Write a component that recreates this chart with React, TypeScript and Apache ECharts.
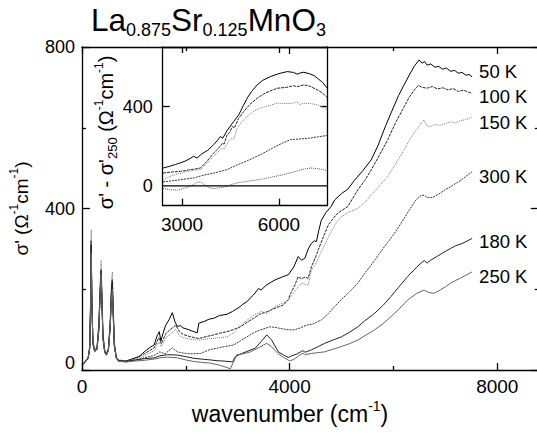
import React, { useEffect, useRef } from "react";
import * as echarts from "echarts";

const FONT = "'Liberation Sans', Arial, Helvetica, sans-serif";

// ---- Main panel: sigma'(omega) [Ohm^-1 cm^-1] vs wavenumber [cm^-1] ----
const sigma50K: [number, number][] = [
  [30, 16], [80, 24], [120, 30], [150, 55], [165, 150], [178, 320], [190, 180], [210, 70], [245, 48], [290, 52],
  [325, 100], [350, 190], [365, 235], [380, 190], [405, 80], [440, 45], [470, 38], [510, 50], [545, 110], [570, 200],
  [583, 215], [600, 150], [625, 60], [660, 32], [700, 24], [850, 22], [1000, 29], [1100, 33], [1200, 45], [1300, 55],
  [1391, 62], [1450, 85], [1490, 95], [1520, 72], [1560, 90], [1614, 111], [1680, 125], [1742, 142], [1790, 120],
  [1837, 108], [1900, 110], [1933, 105], [2050, 100], [2157, 95], [2220, 92], [2252, 116], [2350, 120], [2450, 126],
  [2540, 128], [2650, 135], [2794, 138], [2900, 145], [3049, 157], [3100, 163], [3177, 169], [3240, 178], [3305, 186],
  [3401, 202], [3450, 198], [3550, 210], [3650, 218], [3719, 223], [3850, 230], [3975, 236], [4080, 255], [4166, 281],
  [4230, 272], [4294, 277], [4360, 300], [4421, 314], [4480, 320], [4517, 318], [4560, 345], [4612, 371], [4700, 390],
  [4800, 405], [4867, 421], [5000, 437], [5123, 448], [5250, 470], [5400, 492], [5569, 520], [5700, 555], [5850, 605],
  [5952, 636], [6100, 680], [6200, 705], [6303, 730], [6400, 752], [6494, 768], [6550, 760], [6600, 764], [6650, 755],
  [6718, 758], [6800, 750], [6870, 752], [6950, 745], [7020, 748], [7100, 740], [7180, 742], [7250, 735], [7320, 737],
  [7400, 730], [7460, 732], [7515, 726],
];
const sigma100K: [number, number][] = [
  [30, 15], [80, 23], [120, 29], [150, 58], [165, 160], [179, 300], [192, 170], [212, 68], [245, 50], [290, 55],
  [325, 110], [352, 205], [368, 250], [382, 200], [405, 85], [440, 48], [470, 40], [510, 52], [545, 120], [572, 210],
  [585, 225], [600, 160], [625, 65], [660, 33], [700, 25], [850, 22], [1000, 28], [1200, 40], [1391, 55], [1480, 80],
  [1530, 65], [1614, 90], [1700, 100], [1805, 111], [1880, 95], [1950, 88], [2100, 82], [2252, 78], [2400, 83],
  [2540, 87], [2650, 91], [2794, 95], [2920, 100], [3049, 107], [3180, 118], [3305, 128], [3420, 138], [3560, 144],
  [3700, 152], [3879, 161], [3980, 175], [4006, 186], [4100, 210], [4166, 231], [4230, 226], [4300, 230], [4357, 227],
  [4421, 256], [4500, 280], [4560, 300], [4650, 330], [4750, 360], [4900, 385], [5000, 395], [5123, 405], [5200, 422],
  [5314, 446], [5450, 470], [5569, 495], [5700, 525], [5889, 570], [6050, 615], [6207, 652], [6300, 675], [6399, 693],
  [6480, 705], [6550, 700], [6650, 698], [6750, 702], [6850, 696], [6950, 699], [7050, 694], [7150, 697], [7250, 690],
  [7350, 693], [7450, 688], [7515, 685],
];
const sigma150K: [number, number][] = [
  [30, 17], [80, 25], [120, 31], [150, 62], [166, 180], [179, 347], [191, 190], [212, 72], [245, 52], [290, 58],
  [325, 120], [352, 220], [370, 272], [384, 210], [407, 90], [440, 50], [470, 42], [510, 55], [545, 125], [574, 230],
  [587, 243], [602, 170], [626, 70], [660, 34], [700, 24], [850, 22], [1000, 26], [1200, 35], [1391, 48], [1480, 70],
  [1530, 58], [1614, 80], [1700, 88], [1805, 100], [1880, 85], [1950, 80], [2100, 76], [2252, 74], [2400, 77],
  [2507, 78], [2650, 80], [2794, 82], [2950, 95], [3145, 120], [3300, 135], [3450, 145], [3560, 140], [3719, 157],
  [3850, 165], [3975, 173], [4100, 195], [4230, 215], [4300, 212], [4357, 210], [4421, 248], [4500, 262], [4600, 290],
  [4750, 330], [4900, 365], [5000, 380], [5123, 390], [5314, 400], [5450, 415], [5569, 433], [5700, 452], [5889, 479],
  [6050, 512], [6207, 545], [6330, 575], [6462, 598], [6530, 612], [6590, 619], [6640, 605], [6718, 603], [6800, 608],
  [6900, 606], [7000, 610], [7100, 615], [7200, 612], [7300, 618], [7400, 620], [7515, 627],
];
const sigma300K: [number, number][] = [
  [30, 14], [80, 22], [120, 28], [150, 52], [166, 140], [179, 280], [191, 160], [212, 62], [245, 45], [290, 50],
  [325, 95], [350, 180], [366, 230], [380, 185], [405, 75], [440, 42], [470, 36], [510, 47], [545, 105], [572, 195],
  [585, 210], [600, 145], [625, 55], [660, 30], [700, 22], [850, 20], [1000, 24], [1200, 30], [1391, 36], [1500, 45],
  [1600, 40], [1742, 55], [1837, 45], [1950, 42], [2100, 40], [2284, 41], [2450, 50], [2603, 54], [2750, 58],
  [2922, 62], [3050, 72], [3177, 82], [3300, 92], [3432, 99], [3624, 107], [3750, 105], [3815, 103], [3950, 100],
  [4070, 99], [4200, 104], [4325, 111], [4450, 114], [4612, 124], [4750, 140], [4867, 157], [5000, 175], [5150, 193],
  [5314, 215], [5450, 240], [5600, 265], [5824, 305], [6000, 335], [6144, 363], [6300, 395], [6431, 421], [6530, 432],
  [6590, 433], [6640, 428], [6720, 427], [6781, 429], [6900, 438], [7000, 447], [7100, 454], [7200, 462], [7300, 470],
  [7400, 480], [7515, 491],
];
const sigma180K: [number, number][] = [
  [30, 16], [80, 23], [120, 30], [150, 56], [166, 155], [179, 310], [191, 175], [212, 66], [245, 47], [290, 53],
  [325, 105], [352, 200], [367, 245], [382, 195], [405, 82], [440, 46], [470, 39], [510, 51], [545, 115], [572, 205],
  [585, 220], [600, 155], [625, 62], [660, 32], [700, 23], [850, 21], [1000, 24], [1200, 28], [1391, 30], [1500, 35],
  [1650, 38], [1837, 37], [2000, 33], [2157, 29], [2300, 27], [2474, 25], [2600, 23], [2750, 22], [2900, 20],
  [2954, 33], [3081, 41], [3200, 47], [3337, 54], [3450, 70], [3560, 87], [3650, 75], [3783, 45], [3900, 36],
  [3975, 31], [4038, 35], [4150, 40], [4250, 48], [4300, 44], [4421, 50], [4550, 58], [4676, 66], [4850, 75],
  [4995, 82], [5150, 93], [5314, 107], [5450, 122], [5633, 140], [5800, 160], [5952, 182], [6100, 205], [6271, 231],
  [6450, 255], [6560, 268], [6600, 271], [6650, 265], [6718, 272], [6850, 282], [6950, 290], [7100, 301], [7200, 308],
  [7300, 312], [7400, 318], [7515, 326],
];
const sigma250K: [number, number][] = [
  [30, 15], [80, 22], [120, 29], [150, 54], [166, 145], [179, 290], [191, 165], [212, 64], [245, 46], [290, 51],
  [325, 100], [352, 190], [368, 238], [382, 190], [405, 78], [440, 44], [470, 37], [510, 48], [545, 105], [572, 185],
  [585, 200], [600, 140], [625, 58], [660, 31], [700, 22], [850, 20], [1000, 22], [1200, 24], [1391, 27], [1500, 30],
  [1650, 32], [1837, 30], [2000, 25], [2157, 21], [2300, 19], [2474, 17], [2650, 12], [2794, 6], [2858, 3],
  [2920, 20], [2986, 38], [3100, 40], [3250, 45], [3400, 55], [3500, 62], [3560, 66], [3650, 58], [3783, 40],
  [3900, 30], [4006, 22], [4100, 28], [4200, 37], [4260, 42], [4300, 38], [4421, 41], [4550, 43], [4676, 45],
  [4850, 52], [4995, 58], [5150, 65], [5314, 74], [5450, 85], [5633, 99], [5800, 115], [5952, 132], [6100, 150],
  [6271, 173], [6450, 190], [6590, 198], [6680, 192], [6781, 190], [6900, 198], [7000, 206], [7100, 215], [7200, 222],
  [7300, 228], [7400, 235], [7515, 243],
];

// ---- Inset: sigma'(T) - sigma'(250 K) ----
const diff50K: [number, number][] = [
  [2410, 90], [2600, 98], [2800, 108], [2947, 116], [3100, 125], [3250, 138], [3360, 149], [3464, 140], [3600, 160],
  [3800, 180], [3981, 208], [4100, 230], [4189, 249], [4260, 240], [4400, 280], [4602, 325], [4757, 358], [4900, 405],
  [5017, 442], [5150, 475], [5328, 509], [5500, 532], [5741, 551], [6000, 566], [6259, 576], [6450, 572], [6569, 563],
  [6680, 570], [6774, 573], [6950, 565], [7100, 555], [7190, 543], [7350, 522], [7500, 492],
];
const diff100K: [number, number][] = [
  [2410, 65], [2700, 70], [2947, 73], [3200, 80], [3400, 85], [3568, 90], [3750, 120], [3950, 160], [4136, 191],
  [4250, 215], [4300, 210], [4397, 258], [4480, 270], [4552, 300], [4620, 292], [4750, 340], [4912, 375], [5100, 410],
  [5328, 442], [5600, 470], [5948, 492], [6250, 497], [6450, 505], [6569, 500], [6774, 509], [6950, 503], [7190, 484],
  [7350, 468], [7500, 445],
];
const diff150K: [number, number][] = [
  [2410, 32], [2600, 45], [2800, 58], [3000, 65], [3155, 73], [3350, 78], [3568, 82], [3750, 110], [3950, 145],
  [4136, 174], [4250, 190], [4300, 185], [4448, 224], [4550, 240], [4600, 235], [4707, 291], [4850, 322], [5017, 350],
  [5200, 375], [5430, 392], [5700, 405], [5948, 417], [6200, 415], [6464, 417], [6550, 425], [6650, 410], [6774, 417],
  [6950, 415], [7190, 409], [7350, 398], [7500, 383],
];
const diff300K: [number, number][] = [
  [2410, 20], [2700, 26], [3000, 32], [3360, 40], [3700, 55], [4000, 65], [4397, 82], [4700, 105], [5000, 125],
  [5430, 157], [5800, 190], [6100, 215], [6361, 233], [6600, 236], [6800, 238], [6982, 241], [7200, 247], [7500, 254],
];
const diff180K: [number, number][] = [
  [2410, -14], [2600, -18], [2845, -22], [3000, -15], [3155, -8], [3350, 5], [3468, 18], [3568, 20], [3700, 5],
  [3850, -10], [3981, -14], [4150, -10], [4292, -7], [4500, 5], [4707, 15], [4900, 20], [5100, 25], [5430, 32],
  [5800, 45], [6153, 57], [6500, 72], [6800, 85], [6982, 90], [7200, 87], [7500, 77],
];
const insetZero: [number, number][] = [[2400, 0], [7500, 0]];

const mainXTicks = [0, 4000, 8000];
const mainXMinor = [2000, 6000];
const insetXTicks = [3000, 6000];
const insetYTicks = [0, 400];

const temps = ["50 K", "100 K", "150 K", "300 K", "180 K", "250 K"];
const mainData = [sigma50K, sigma100K, sigma150K, sigma300K, sigma180K, sigma250K];
const insetData = [diff50K, diff100K, diff150K, diff300K, diff180K];

// styles (not data)
const mainStyles = [
  { color: "#000", type: "solid" as any, off: -5 },
  { color: "#222", type: [3, 1] as any, off: 3.5 },
  { color: "#777", type: [1, 1] as any, off: 6 },
  { color: "#333", type: [2, 1] as any, off: 5 },
  { color: "#222", type: "solid" as any, off: 3.5 },
  { color: "#666", type: "solid" as any, off: 5 },
];
const insetStyles = [
  { color: "#000", type: "solid" as any },
  { color: "#222", type: [3, 1] as any },
  { color: "#777", type: [1, 1] as any },
  { color: "#333", type: [2, 1] as any },
  { color: "#555", type: [1, 1] as any },
];

const AX = { color: "#000", width: 1.3 };
const plain = (v: number) => String(v);
const supRich = {
  sup: { fontSize: 12, lineHeight: 12, verticalAlign: "top", fontFamily: FONT, color: "#000" },
  sub: { fontSize: 13, lineHeight: 13, verticalAlign: "bottom", fontFamily: FONT, color: "#000" },
};

function buildOption(): any {
  const xAxisBase = (gridIndex: number, min: number, max: number, position: string) => ({
    type: "value",
    gridIndex,
    min,
    max,
    position,
    splitLine: { show: false },
    axisLine: { show: true, onZero: false, lineStyle: AX },
  });

  const xAxis = [
    {
      ...xAxisBase(0, 0, 8800, "bottom"),
      axisTick: { show: true, inside: true, length: 7, customValues: mainXTicks, lineStyle: AX },
      axisLabel: {
        show: true,
        customValues: mainXTicks,
        formatter: plain,
        color: "#000",
        fontSize: 19,
        fontFamily: FONT,
        margin: 7,
      },
    },
    {
      ...xAxisBase(0, 0, 8800, "bottom"),
      axisLine: { show: false, onZero: false },
      axisTick: { show: true, inside: true, length: 4, customValues: mainXMinor, lineStyle: AX },
      axisLabel: { show: false },
    },
    {
      ...xAxisBase(0, 0, 8800, "top"),
      axisTick: { show: true, inside: true, length: 7, customValues: mainXTicks, lineStyle: AX },
      axisLabel: { show: false },
    },
    {
      ...xAxisBase(0, 0, 8800, "top"),
      axisLine: { show: false, onZero: false },
      axisTick: { show: true, inside: true, length: 4, customValues: mainXMinor, lineStyle: AX },
      axisLabel: { show: false },
    },
    {
      ...xAxisBase(1, 2400, 7500, "bottom"),
      axisTick: { show: true, inside: true, length: 7, customValues: insetXTicks, lineStyle: AX },
      axisLabel: {
        show: true,
        customValues: insetXTicks,
        formatter: plain,
        color: "#000",
        fontSize: 19,
        fontFamily: FONT,
        margin: 9,
      },
    },
    {
      ...xAxisBase(1, 2400, 7500, "top"),
      axisTick: { show: true, inside: true, length: 6, customValues: insetXTicks, lineStyle: AX },
      axisLabel: { show: false },
    },
  ];

  const yAxis = [
    {
      type: "value",
      gridIndex: 0,
      min: 0,
      max: 800,
      interval: 400,
      position: "left",
      splitLine: { show: false },
      axisLine: { show: true, onZero: false, lineStyle: AX },
      axisTick: { show: true, inside: true, length: 8, lineStyle: AX },
      minorTick: { show: true, splitNumber: 2, length: 4, lineStyle: AX },
      axisLabel: {
        color: "#000",
        fontSize: 18,
        fontFamily: FONT,
        margin: 7,
        formatter: (v: number) => (v === 0 ? "{z|0}" : String(v)),
        rich: { z: { fontSize: 18, fontFamily: FONT, color: "#000", padding: [0, 0, 14, 0] } },
      },
      name: "σ' (Ω{sup|-1}cm{sup|-1})",
      nameLocation: "middle",
      nameRotate: 90,
      nameGap: 44,
      nameTextStyle: { fontSize: 19, lineHeight: 26, color: "#000", fontFamily: FONT, rich: supRich },
    },
    {
      type: "value",
      gridIndex: 0,
      min: 0,
      max: 800,
      interval: 400,
      position: "right",
      splitLine: { show: false },
      axisLine: { show: true, onZero: false, lineStyle: AX },
      axisTick: { show: true, inside: true, length: 8, lineStyle: AX },
      minorTick: { show: true, splitNumber: 2, length: 4, lineStyle: AX },
      axisLabel: { show: false },
    },
    {
      type: "value",
      gridIndex: 1,
      min: -100,
      max: 700,
      position: "left",
      splitLine: { show: false },
      axisLine: { show: true, onZero: false, lineStyle: AX },
      axisTick: { show: true, inside: true, length: 7, customValues: [400], lineStyle: AX },
      axisLabel: {
        show: true,
        customValues: insetYTicks,
        formatter: plain,
        color: "#000",
        fontSize: 18,
        fontFamily: FONT,
        margin: 10,
      },
      name: "σ' - σ'{sub|250} (Ω{sup|-1}cm{sup|-1})",
      nameLocation: "middle",
      nameRotate: 90,
      nameGap: 41,
      nameTextStyle: {
        fontSize: 20,
        lineHeight: 26,
        color: "#000",
        fontFamily: FONT,
        padding: [0, 12, 0, 0],
        rich: supRich,
      },
    },
    {
      type: "value",
      gridIndex: 1,
      min: -100,
      max: 700,
      position: "right",
      splitLine: { show: false },
      axisLine: { show: true, onZero: false, lineStyle: AX },
      axisTick: { show: true, inside: true, length: 7, customValues: [400], lineStyle: AX },
      axisLabel: { show: false },
    },
  ];

  const series: any[] = [];
  mainData.forEach((d, i) => {
    const st = mainStyles[i];
    series.push({
      type: "line",
      name: temps[i],
      xAxisIndex: 0,
      yAxisIndex: 0,
      data: d,
      showSymbol: false,
      symbol: "none",
      lineStyle: { color: st.color, width: 1, type: st.type },
      endLabel: {
        show: true,
        formatter: temps[i],
        distance: 7,
        offset: [0, st.off],
        color: "#000",
        fontSize: 18.5,
        fontFamily: FONT,
      },
      silent: true,
    });
  });
  insetData.forEach((d, i) => {
    const st = insetStyles[i];
    series.push({
      type: "line",
      name: "Δ" + temps[i],
      xAxisIndex: 4,
      yAxisIndex: 2,
      data: d,
      showSymbol: false,
      symbol: "none",
      lineStyle: { color: st.color, width: 1, type: st.type },
      silent: true,
    });
  });
  series.push({
    type: "line",
    name: "zero",
    xAxisIndex: 4,
    yAxisIndex: 2,
    data: insetZero,
    showSymbol: false,
    symbol: "none",
    lineStyle: { color: "#000", width: 1.3 },
    silent: true,
  });

  return {
    animation: false,
    backgroundColor: "#fff",
    grid: [
      { left: 79, top: 47, width: 459.8, height: 323, containLabel: false },
      { left: 162.7, top: 47, width: 164.6, height: 158.7, containLabel: false },
    ],
    xAxis,
    yAxis,
    series,
    graphic: [
      {
        type: "text",
        left: 91,
        top: 4,
        style: {
          text: "{m|La}{s|0.875}{m|Sr}{s|0.125}{m|MnO}{s|3}",
          fill: "#000",
          rich: {
            m: { fontSize: 31.5, lineHeight: 30, fontFamily: FONT, fill: "#000" },
            s: { fontSize: 18, lineHeight: 18, height: 10, verticalAlign: "bottom", fontFamily: FONT, fill: "#000" },
          },
        },
      },
      {
        type: "text",
        x: 290,
        y: 414,
        style: {
          text: "wavenumber (cm{sup|-1})",
          fill: "#000",
          fontSize: 23,
          lineHeight: 30,
          fontFamily: FONT,
          align: "center",
          verticalAlign: "middle",
          rich: {
            sup: { fontSize: 14, lineHeight: 14, verticalAlign: "top", fontFamily: FONT, fill: "#000" },
          },
        },
      },
    ],
  };
}

export default function App() {
  const ref = useRef<HTMLDivElement>(null);
  useEffect(() => {
    if (!ref.current) return;
    const chart = echarts.init(ref.current, null, { renderer: "svg" });
    chart.setOption(buildOption());
    return () => chart.dispose();
  }, []);
  return (
    <div
      style={{
        position: "fixed",
        left: 0,
        top: 0,
        width: 537,
        height: 435,
        overflow: "hidden",
        background: "#fff",
      }}
    >
      <div ref={ref} style={{ width: 560, height: 435 }} />
    </div>
  );
}
